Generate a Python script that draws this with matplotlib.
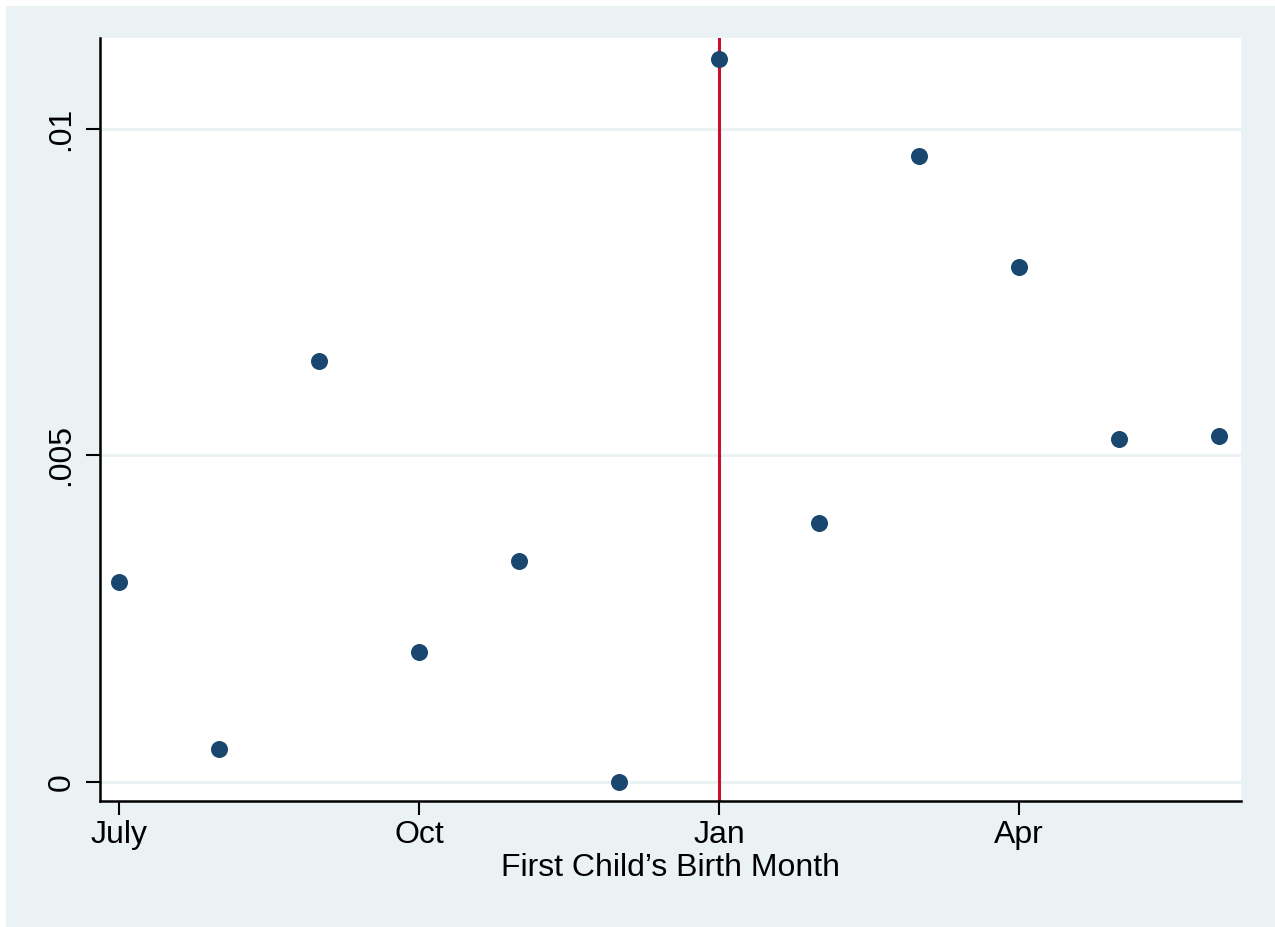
import numpy as np
import matplotlib
matplotlib.use('Agg')
import matplotlib.pyplot as plt
from matplotlib.patches import Rectangle

# months since July of first child's birth and estimated effect
months = ['July', 'Aug', 'Sep', 'Oct', 'Nov', 'Dec', 'Jan', 'Feb', 'Mar', 'Apr', 'May', 'Jun']
month_idx = np.arange(len(months))
effect = [0.00306, 0.00051, 0.00645, 0.00199, 0.00338, 0.0,
          0.01107, 0.00397, 0.00959, 0.00789, 0.00525, 0.00530]
xtick_pos = [0, 3, 6, 9]
xtick_lbl = ['July', 'Oct', 'Jan', 'Apr']
ytick_pos = [0, 0.005, 0.01]
ytick_lbl = ['0', '.005', '.01']
cutoff = 6

plt.rcParams['font.family'] = ['Liberation Sans', 'DejaVu Sans']
bg = '#EAF2F3'
W, H = 1275, 927
f = plt.figure(figsize=(W / 100, H / 100), dpi=100)
f.patch.set_facecolor('white')
f.patches.append(Rectangle((6 / W, 0), 1, 1 - 6 / H, transform=f.transFigure,
                           facecolor=bg, edgecolor='none', zorder=-10))

ax = f.add_axes([100 / W, (H - 801) / H, (1241 - 100) / W, (801 - 38) / H])
ax.set_facecolor('white')

for yv in ytick_pos:
    ax.axhline(yv, color=bg, linewidth=2.2, zorder=1)
ax.axvline(cutoff, color='#C8102E', linewidth=2.2, zorder=2)
ax.scatter(month_idx, effect, s=150, color='#1A476F', zorder=3, linewidths=0)

ax.set_xlim(-0.19, 11.22)
ax.set_ylim(-0.000291, 0.01139)
ax.set_xticks(xtick_pos)
ax.set_xticklabels(xtick_lbl)
ax.set_yticks(ytick_pos)
ax.set_yticklabels(ytick_lbl, rotation=90, va='center')
ax.tick_params(axis='both', direction='out', length=10, width=1.5, labelsize=23, pad=4)
ax.tick_params(axis='y', pad=7)

ax.spines['top'].set_visible(False)
ax.spines['right'].set_visible(False)
ax.spines['left'].set_linewidth(1.8)
ax.spines['bottom'].set_linewidth(1.8)

ax.set_xlabel('First Child\u2019s Birth Month', fontsize=23, labelpad=2)

f.savefig('out.png', dpi=100, facecolor=f.get_facecolor())
